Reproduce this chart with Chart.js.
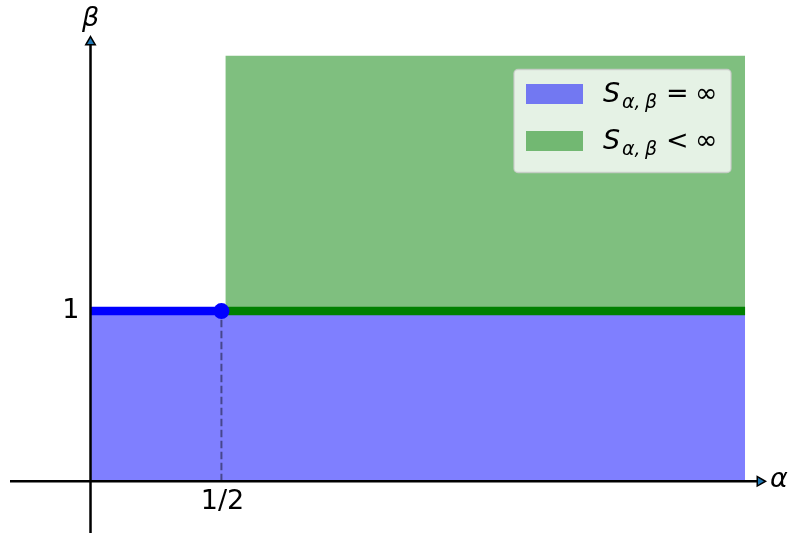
<!DOCTYPE html>
<html>
<head>
<meta charset="utf-8">
<script src="https://cdn.jsdelivr.net/npm/chart.js@4.4.1/dist/chart.umd.min.js"></script>
<style>
html,body{margin:0;padding:0;background:#fff;}
canvas{display:block;}
</style>
</head>
<body>
<canvas id="c" width="792" height="536"></canvas>
<script>
// ---- data ----
const xLimits = [-0.3075, 2.557];
const yLimits = [-0.304, 2.581];
const blueRegionX = [0, 2.5];
const blueRegionTop = [1, 1];
const greenRegionX = [0.515, 2.5];
const greenRegionTop = [2.5, 2.5];
const greenRegionBottom = 1;
const blueLineX = [0, 0.5];
const blueLineY = [1, 1];
const greenLineX = [0.5, 2.5];
const greenLineY = [1, 1];
const dotX = [0.5];
const dotY = [1];
const dashX = [0.5, 0.5];
const dashY = [0, 1];
const xTickValues = [0.5];
const xTickLabels = ['1/2'];
const yTickValues = [1];
const yTickLabels = ['1'];
const xAxisLabel = 'α';
const yAxisLabel = 'β';
const legendItems = [
  {sub: 'α,', sub2: 'β', rel: '=', tail: '∞', color: 'rgba(0,0,255,0.5)'},
  {sub: 'α,', sub2: 'β', rel: '<', tail: '∞', color: 'rgba(0,128,0,0.5)'}
];

const pts = (xs, ys) => xs.map((x, i) => ({x: x, y: ys[i]}));

const FONT = "'DejaVu Sans', sans-serif";

const textPlugin = {
  id: 'texts',
  afterDraw(chart) {
    const ctx = chart.ctx;
    const xs = chart.scales.x, ys = chart.scales.y;
    ctx.save();
    ctx.fillStyle = '#000';
    // tick labels
    ctx.font = '27px ' + FONT;
    ctx.textAlign = 'center';
    ctx.textBaseline = 'alphabetic';
    xTickValues.forEach((v, i) => {
      ctx.fillText(xTickLabels[i], xs.getPixelForValue(v) + 1, ys.getPixelForValue(0) + 28);
    });
    ctx.textAlign = 'right';
    yTickValues.forEach((v, i) => {
      ctx.fillText(yTickLabels[i], xs.getPixelForValue(0) - 11, ys.getPixelForValue(v) + 7);
    });
    // axis labels
    ctx.font = 'italic 27px ' + FONT;
    ctx.textAlign = 'left';
    ctx.fillText(xAxisLabel, xs.getPixelForValue(xLimits[1]) + 10, ys.getPixelForValue(0) + 6);
    ctx.textAlign = 'center';
    ctx.fillText(yAxisLabel, xs.getPixelForValue(0) + 0, 25.5);

    // legend
    const bx = 514, by = 69.5, bw = 217, bh = 103;
    ctx.beginPath();
    if (ctx.roundRect) ctx.roundRect(bx, by, bw, bh, 4); else ctx.rect(bx, by, bw, bh);
    ctx.fillStyle = 'rgba(255,255,255,0.8)';
    ctx.fill();
    ctx.lineWidth = 1.4;
    ctx.strokeStyle = 'rgba(204,204,204,0.8)';
    ctx.stroke();
    legendItems.forEach((it, i) => {
      const rowY = 84 + i * 47;
      ctx.fillStyle = it.color;
      ctx.fillRect(526, rowY, 57, 20);
      const base = rowY + 18.3;
      ctx.fillStyle = '#000';
      ctx.textAlign = 'left';
      ctx.font = 'italic 27px ' + FONT;
      const x0 = 603;
      ctx.fillText('S', x0, base);
      ctx.font = 'italic 19px ' + FONT;
      ctx.fillText(it.sub, x0 + 19, base + 6);
      ctx.fillText(it.sub2, x0 + 42, base + 6);
      ctx.font = '27px ' + FONT;
      ctx.fillText(it.rel, x0 + 63, base);
      ctx.fillText(it.tail, x0 + 92, base);
    });
    ctx.restore();
  }
};

new Chart(document.getElementById('c'), {
  type: 'scatter',
  data: {
    datasets: [
      { // arrows
        data: [{x: 0, y: yLimits[1]}],
        pointStyle: 'triangle', rotation: 0, pointRadius: 5.5,
        backgroundColor: '#1f77b4', borderColor: '#000', borderWidth: 1.5,
        clip: false, order: 0
      },
      {
        data: [{x: xLimits[1], y: 0}],
        pointStyle: 'triangle', rotation: 90, pointRadius: 5.5,
        backgroundColor: '#1f77b4', borderColor: '#000', borderWidth: 1.5,
        clip: false, order: 0
      },
      { // dot
        data: pts(dotX, dotY),
        pointRadius: 8, backgroundColor: '#0000ff', borderColor: '#0000ff', borderWidth: 0,
        clip: false, order: 1
      },
      { // x spine
        data: [{x: xLimits[0], y: 0}, {x: xLimits[1], y: 0}],
        showLine: true, borderColor: '#000', borderWidth: 2.5, pointRadius: 0,
        clip: false, order: 2
      },
      { // y spine
        data: [{x: 0, y: yLimits[0]}, {x: 0, y: yLimits[1]}],
        showLine: true, borderColor: '#000', borderWidth: 2.5, pointRadius: 0,
        clip: false, order: 2
      },
      { // dashed guide
        data: pts(dashX, dashY),
        showLine: true, borderColor: 'rgba(0,0,0,0.45)', borderWidth: 2,
        borderDash: [7.5, 3.5], pointRadius: 0, order: 3
      },
      { // blue line
        data: pts(blueLineX, blueLineY),
        showLine: true, borderColor: '#0000ff', borderWidth: 8.5, pointRadius: 0,
        borderCapStyle: 'butt', order: 4
      },
      { // green line
        data: pts(greenLineX, greenLineY),
        showLine: true, borderColor: '#008000', borderWidth: 8.5, pointRadius: 0,
        borderCapStyle: 'butt', order: 4
      },
      { // blue region
        data: pts(blueRegionX, blueRegionTop),
        showLine: true, borderColor: 'transparent', borderWidth: 0, pointRadius: 0,
        fill: 'origin', backgroundColor: 'rgba(0,0,255,0.5)', order: 5
      },
      { // green region
        data: pts(greenRegionX, greenRegionTop),
        showLine: true, borderColor: 'transparent', borderWidth: 0, pointRadius: 0,
        fill: {value: greenRegionBottom}, backgroundColor: 'rgba(0,128,0,0.5)', order: 6
      }
    ]
  },
  options: {
    responsive: false,
    devicePixelRatio: 1,
    animation: false,
    layout: {autoPadding: false, padding: {left: 10, right: 32, top: 42, bottom: 3}},
    scales: {
      x: {type: 'linear', display: false, min: xLimits[0], max: xLimits[1]},
      y: {type: 'linear', display: false, min: yLimits[0], max: yLimits[1]}
    },
    plugins: {legend: {display: false}, tooltip: {enabled: false}},
    elements: {line: {tension: 0}}
  },
  plugins: [textPlugin]
});
</script>
</body>
</html>
